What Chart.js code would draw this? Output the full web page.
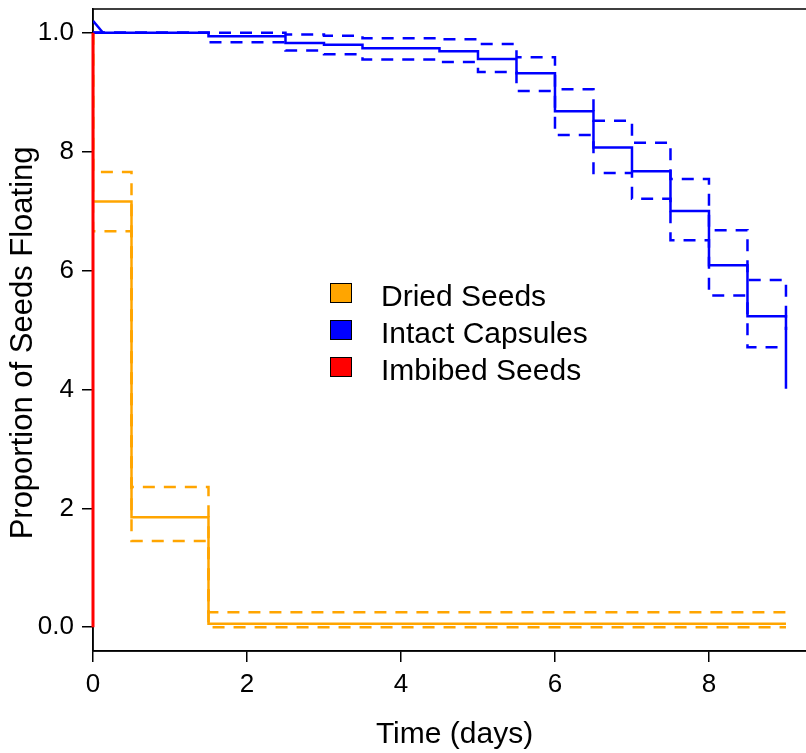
<!DOCTYPE html>
<html>
<head>
<meta charset="utf-8">
<script src="https://cdn.jsdelivr.net/npm/chart.js@4"></script>
<style>
  html, body { margin: 0; padding: 0; background: #fff; overflow: hidden; }
  #wrap { position: absolute; left: 0; top: 0; width: 820px; height: 753px; }
</style>
</head>
<body>
<div id="wrap"><canvas id="chart" width="820" height="753"></canvas></div>
<script>
    const FONT = '"Liberation Sans", Arial, sans-serif';

    // ---------------- Axis ticks ----------------
    const xTicks = [0, 2, 4, 6, 8];
    const yTicks = [0, 0.2, 0.4, 0.6, 0.8, 1.0];
    const yTickLabels = ['0.0', '2', '4', '6', '8', '1.0'];

    // ---------------- Dried seeds ----------------
    const driedTimes = [0, 0, 0.5, 1.5, 9];
    const driedSurv  = [1, 0.716, 0.185, 0.006, 0.006];
    const driedUpper = [1, 0.766, 0.236, 0.025, 0.025];
    const driedLower = [1, 0.666, 0.145, 0.0, 0.0];

    // ---------------- Intact capsules ----------------
    const intactTimes = [0, 1.5, 2.5, 3.0, 3.5, 4.5, 5.0, 5.5, 6.0, 6.5, 7.0, 7.5, 8.0, 8.5, 9.0];
    const intactSurv  = [1, 0.994, 0.983, 0.980, 0.974, 0.969, 0.956, 0.932, 0.868, 0.807, 0.767, 0.700, 0.609, 0.523, 0.401];
    const intactUpper = [1, 1.0, 0.997, 0.995, 0.991, 0.989, 0.981, 0.959, 0.905, 0.852, 0.815, 0.754, 0.668, 0.584, 0.50];
    const intactLower = [1, 0.984, 0.970, 0.964, 0.955, 0.951, 0.934, 0.902, 0.828, 0.764, 0.721, 0.651, 0.558, 0.471, 0.471];
    const intactStartX = [0, 0.13];
    const intactStartY = [1.02, 1.0];

    // ---------------- Imbibed seeds ----------------
    const imbibedTimes = [0, 0];
    const imbibedSurv  = [1, 0];

    const legendLabels = ['Dried Seeds', 'Intact Capsules', 'Imbibed Seeds'];
    const legendColors = ['#FFA500', '#0000FF', '#FF0000'];

    function pts(xs, ys) {
        return xs.map((x, i) => ({ x: x, y: ys[i] }));
    }

    // survival-style step: horizontal first, then drop
    function stepSet(xs, ys, color, dashed) {
        return {
            data: pts(xs, ys),
            borderColor: color,
            borderWidth: 2.5,
            borderDash: dashed ? [12, 9] : [],
            stepped: 'before',
            pointRadius: 0,
            fill: false
        };
    }

    // box round the plot (under the curves) + legend inside it
    const boxAndLegend = {
        id: 'boxAndLegend',
        beforeDatasetsDraw(chart) {
            const { ctx, chartArea: a } = chart;
            ctx.save();
            ctx.strokeStyle = '#000';
            ctx.lineWidth = 1.5;
            ctx.strokeRect(a.left, a.top, a.right - a.left, a.bottom - a.top);
            ctx.restore();
        },
        afterDatasetsDraw(chart) {
            const { ctx } = chart;
            ctx.save();
            ctx.font = '30px ' + FONT;
            ctx.textBaseline = 'alphabetic';
            ctx.textAlign = 'left';
            legendLabels.forEach((lbl, i) => {
                const y = 283 + i * 37;
                ctx.fillStyle = legendColors[i];
                ctx.fillRect(330, y, 21, 19);
                ctx.lineWidth = 1;
                ctx.strokeStyle = '#000';
                ctx.strokeRect(330.5, y + 0.5, 21, 19);
                ctx.fillStyle = '#000';
                ctx.fillText(lbl, 381, y + 23);
            });
            ctx.restore();
        }
    };

    const imbibedSet = stepSet(imbibedTimes, imbibedSurv, legendColors[2], false);
    imbibedSet.borderWidth = 3;
    imbibedSet.clip = false;

    const ctx = document.getElementById('chart').getContext('2d');
    new Chart(ctx, {
        type: 'line',
        data: {
            // first dataset is drawn on top
            datasets: [
                imbibedSet,
                {
                    data: pts(intactStartX, intactStartY),
                    borderColor: legendColors[1],
                    borderWidth: 2.5,
                    pointRadius: 0,
                    fill: false
                },
                stepSet(intactTimes, intactSurv, legendColors[1], false),
                stepSet(intactTimes, intactUpper, legendColors[1], true),
                stepSet(intactTimes, intactLower, legendColors[1], true),
                stepSet(driedTimes, driedSurv, legendColors[0], false),
                stepSet(driedTimes, driedUpper, legendColors[0], true),
                stepSet(driedTimes, driedLower, legendColors[0], true)
            ]
        },
        options: {
            responsive: false,
            animation: false,
            layout: { padding: { top: 9, right: 4, left: 0, bottom: 0 } },
            plugins: {
                legend: { display: false },
                tooltip: { enabled: false }
            },
            scales: {
                x: {
                    type: 'linear',
                    min: 0,
                    max: 9.39,
                    afterBuildTicks: s => { s.ticks = xTicks.map(v => ({ value: v })); },
                    afterFit: s => { s.height = 102; s.paddingLeft = 0; s.paddingRight = 0; },
                    grid: { drawOnChartArea: false, drawTicks: true, tickLength: 11, color: '#000', lineWidth: 1.5 },
                    border: { display: true, color: '#000', width: 1.5 },
                    ticks: { color: '#000', font: { family: FONT, size: 26 }, padding: 7, maxRotation: 0 },
                    title: { display: true, text: 'Time (days)', color: '#000', font: { family: FONT, size: 30 }, padding: { top: 0, bottom: 0 } }
                },
                y: {
                    type: 'linear',
                    min: -0.04,
                    max: 1.04,
                    afterBuildTicks: s => { s.ticks = yTicks.map(v => ({ value: v })); },
                    afterFit: s => { s.width = 93; s.paddingTop = 0; s.paddingBottom = 0; },
                    grid: { drawOnChartArea: false, drawTicks: true, tickLength: 11, color: '#000', lineWidth: 1.5 },
                    border: { display: true, color: '#000', width: 1.5 },
                    ticks: {
                        color: '#000',
                        font: { family: FONT, size: 26 },
                        padding: 8,
                        callback: (v, i) => yTickLabels[i]
                    },
                    title: { display: true, text: 'Proportion of Seeds Floating   ', color: '#000', font: { family: FONT, size: 31 }, padding: { top: 5, bottom: 0 } }
                }
            }
        },
        plugins: [boxAndLegend]
    });
</script>
</body>
</html>
